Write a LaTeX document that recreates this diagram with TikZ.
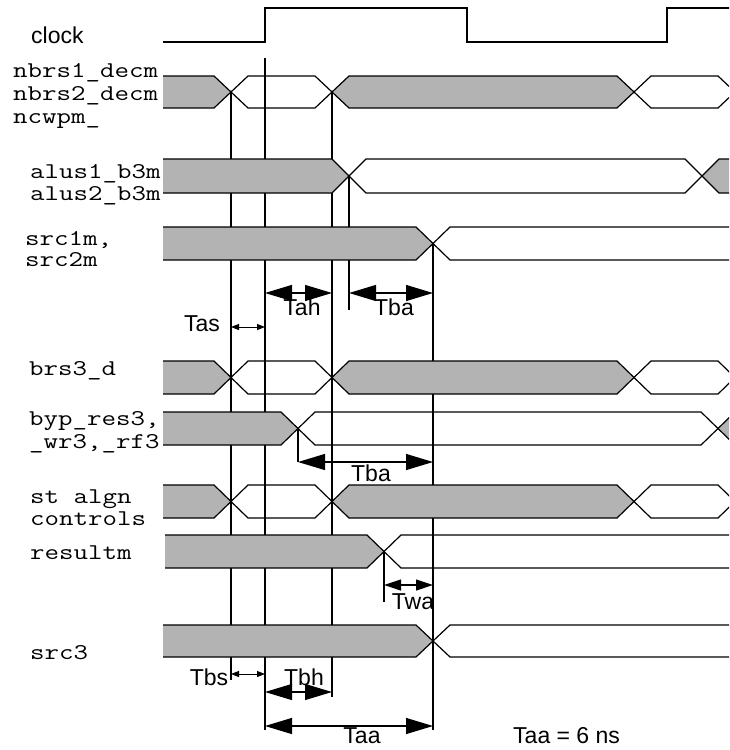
\documentclass[tikz,border=0pt]{standalone}
\usepackage{fontspec}
\setmainfont{Liberation Sans}
\newfontfamily\courfont[FakeStretch=1.25]{Latin Modern Mono}
\usetikzlibrary{arrows.meta}
\definecolor{busgray}{RGB}{179,179,179}
\tikzset{
  sig/.style={line width=1.2pt, line join=miter},
  marker/.style={line width=1.2pt},
  lbl/.style={font=\courfont\fontsize{22.5}{24}\selectfont, anchor=base west, inner sep=0pt},
  tlbl/.style={font=\fontsize{23}{25}\selectfont, anchor=base, inner sep=0pt},
  bigdim/.style={line width=1.2pt, {Triangle[length=27pt,width=16pt]}-{Triangle[length=27pt,width=16pt]}},
  middim/.style={line width=1.2pt, {Triangle[length=17pt,width=11pt]}-{Triangle[length=17pt,width=11pt]}},
  smalldim/.style={line width=1pt, {Triangle[length=8pt,width=6pt]}-{Triangle[length=8pt,width=6pt]}}
}
% bus row with transitions at 231, 332, 634, 735 (grey/white/grey/white)
\newcommand\patA[2]{%
  \fill[busgray] (163,#1) -- (214,#1) -- (231,{(#1+#2)/2}) -- (214,#2) -- (163,#2) -- cycle;
  \fill[busgray] (332,{(#1+#2)/2}) -- (349,#1) -- (617,#1) -- (634,{(#1+#2)/2}) -- (617,#2) -- (349,#2) -- cycle;
  \draw[sig] (163,#1) -- (214,#1) -- (248,#2) -- (315,#2) -- (349,#1) -- (617,#1) -- (651,#2) -- (718,#2) -- (752,#1);
  \draw[sig] (163,#2) -- (214,#2) -- (248,#1) -- (315,#1) -- (349,#2) -- (617,#2) -- (651,#1) -- (718,#1) -- (752,#2);
}
% bus row grey until one transition at #3, white after
\newcommand\patB[4]{%
  \fill[busgray] (#4,#1) -- ({#3-17},#1) -- (#3,{(#1+#2)/2}) -- ({#3-17},#2) -- (#4,#2) -- cycle;
  \draw[sig] (#4,#1) -- ({#3-17},#1) -- ({#3+17},#2) -- (760,#2);
  \draw[sig] (#4,#2) -- ({#3-17},#2) -- ({#3+17},#1) -- (760,#1);
}
% grey until #3, white until #4, grey after
\newcommand\patC[4]{%
  \fill[busgray] (163,#1) -- ({#3-17},#1) -- (#3,{(#1+#2)/2}) -- ({#3-17},#2) -- (163,#2) -- cycle;
  \fill[busgray] (#4,{(#1+#2)/2}) -- ({#4+17},#1) -- (770,#1) -- (770,#2) -- ({#4+17},#2) -- cycle;
  \draw[sig] (163,#1) -- ({#3-17},#1) -- ({#3+17},#2) -- ({#4-17},#2) -- ({#4+17},#1) -- (770,#1);
  \draw[sig] (163,#2) -- ({#3-17},#2) -- ({#3+17},#1) -- ({#4-17},#1) -- ({#4+17},#2) -- (770,#2);
}
\begin{document}
\begin{tikzpicture}[x=1pt,y=-1pt]
\useasboundingbox (0,0) rectangle (729,750);
\clip (0,0) rectangle (729,750);

% marker coordinates
\coordinate (a1) at (231,92);   \coordinate (a2) at (231,680);
\coordinate (b1) at (265,58);   \coordinate (b2) at (265,730);
\coordinate (c1) at (332,92);   \coordinate (c2) at (332,697);
\coordinate (d1) at (349,176);  \coordinate (d2) at (349,310);
\coordinate (e1) at (433,243.5);\coordinate (e2) at (433,730);
\coordinate (f1) at (298,428.5);\coordinate (f2) at (298,462);
\coordinate (g1) at (384,551.5);\coordinate (g2) at (384,602);

% vertical marker lines (behind the grey fills)
\draw[marker] (a1) -- (a2);
\draw[marker] (b1) -- (b2);
\draw[marker] (c1) -- (c2);
\draw[marker] (d1) -- (d2);
\draw[marker] (e1) -- (e2);
\draw[marker] (f1) -- (f2);
\draw[marker] (g1) -- (g2);

% clock
\draw[sig] (163,42) -- (265,42) -- (265,8) -- (467,8) -- (467,42) -- (667,42) -- (667,8) -- (740,8);

% buses
\patA{76}{108}
\patC{159}{193}{349}{702}
\patB{227}{260}{433}{163}
\patA{361}{394}
\patC{412}{445}{298}{718}
\patA{485}{518}
\patB{535}{568}{384}{165}
\patB{625}{657}{433}{163}

% signal labels
\node[tlbl, anchor=base west] (clk) at (31,43) {clock};
\node[lbl] (n1) at (13,77) {nbrs1\_decm};
\node[lbl] (n2) at (13,100) {nbrs2\_decm};
\node[lbl] (n3) at (13,123) {ncwpm\_};
\node[lbl] (al1) at (30,178) {alus1\_b3m};
\node[lbl] (al2) at (30,200) {alus2\_b3m};
\node[lbl] (s1) at (25,245) {src1m,};
\node[lbl] (s2) at (25,266) {src2m};
\node[lbl] (br) at (29,375) {brs3\_d};
\node[lbl] (by1) at (29,425) {byp\_res3,};
\node[lbl] (by2) at (29,448) {\_wr3,\_rf3};
\node[lbl] (st1) at (30,503) {st algn};
\node[lbl] (st2) at (30,525) {controls};
\node[lbl] (rs) at (30,559) {resultm};
\node[lbl] (s3) at (30,659) {src3};

% dimension arrows
\coordinate (tas1) at (231,327); \coordinate (tas2) at (265,327);
\draw[smalldim] (tas1) -- (tas2);
\coordinate (tah1) at (265,293); \coordinate (tah2) at (332,293);
\draw[bigdim] (tah1) -- (tah2);
\coordinate (tba1) at (349,293); \coordinate (tba2) at (433,293);
\draw[bigdim] (tba1) -- (tba2);
\coordinate (tbb1) at (298,462); \coordinate (tbb2) at (433,462);
\draw[bigdim] (tbb1) -- (tbb2);
\coordinate (twa1) at (384,585); \coordinate (twa2) at (433,585);
\draw[middim] (twa1) -- (twa2);
\coordinate (tbs1) at (231,674); \coordinate (tbs2) at (265,674);
\draw[smalldim] (tbs1) -- (tbs2);
\coordinate (tbh1) at (265,692); \coordinate (tbh2) at (332,692);
\draw[bigdim] (tbh1) -- (tbh2);
\coordinate (taa1) at (265,726); \coordinate (taa2) at (433,726);
\draw[bigdim] (taa1) -- (taa2);

% timing labels
\node[tlbl] (Tas) at (202,331) {Tas};
\node[tlbl] (Tah) at (302,315) {Tah};
\node[tlbl] (Tba) at (394,315) {Tba};
\node[tlbl] (Tbb) at (371,481) {Tba};
\node[tlbl] (Twa) at (413,609) {Twa};
\node[tlbl] (Tbs) at (209,685) {Tbs};
\node[tlbl] (Tbh) at (304,685) {Tbh};
\node[tlbl] (Taa) at (362,743) {Taa};
\node[tlbl, anchor=base west] (note) at (513,743) {Taa = 6 ns};
\end{tikzpicture}
\end{document}
